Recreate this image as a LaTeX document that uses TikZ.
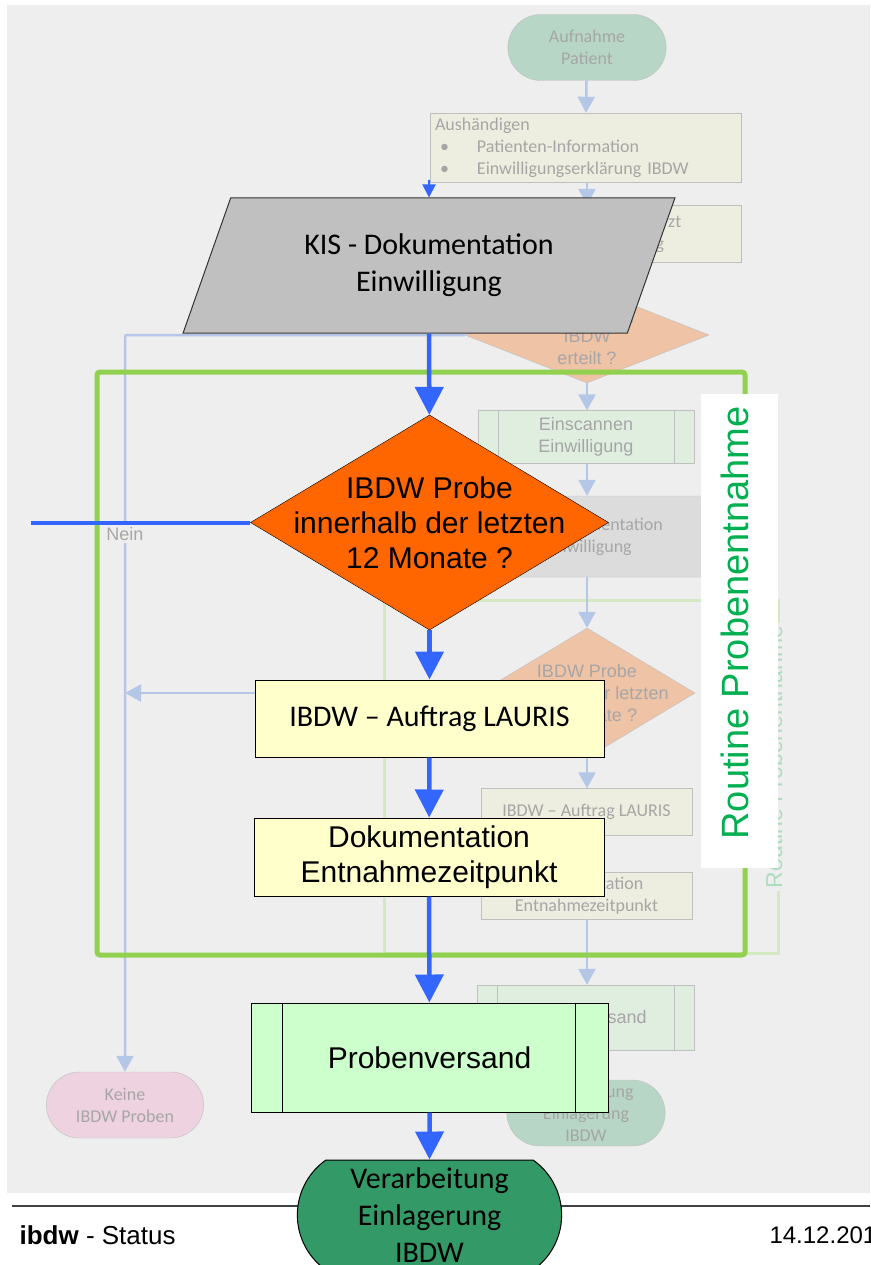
\documentclass[tikz,border=0pt]{standalone}
\usepackage{fontspec}
\setmainfont{Liberation Sans}
\newfontfamily\carlito{Carlito}
\usetikzlibrary{shapes.geometric, shapes.misc, arrows.meta, positioning}

\definecolor{bggray}{HTML}{EEEEEE}
\definecolor{fadetext}{HTML}{A6A6A6}
\definecolor{fadeline}{HTML}{BFBFBF}
\definecolor{fadeblue}{HTML}{B4C7E7}
\definecolor{fadebeige}{HTML}{EDEDE0}
\definecolor{fadegreen}{HTML}{DFEEDF}
\definecolor{fadestad}{HTML}{B7D6C6}
\definecolor{fadepink}{HTML}{EED2E0}
\definecolor{fadeorange}{HTML}{EFC3A6}
\definecolor{fadekis}{HTML}{DCDCDC}
\definecolor{fadeframe}{HTML}{D5E8C4}
\definecolor{fadelabel}{HTML}{ABDDBE}
\definecolor{mainblue}{HTML}{3366FF}
\definecolor{routinegreen}{HTML}{92D050}
\definecolor{labelgreen}{HTML}{00B050}
\definecolor{kisgray}{HTML}{C0C0C0}
\definecolor{decorange}{HTML}{FF6600}
\definecolor{boxyellow}{HTML}{FFFFCC}
\definecolor{boxgreen}{HTML}{CCFFCC}
\definecolor{endgreen}{HTML}{339966}

\newcommand{\bigsans}{\fontsize{30}{35}\selectfont}
\newcommand{\bigcal}{\carlito\fontsize{30}{37}\selectfont}
\newcommand{\smallsans}{\fontsize{18}{22}\selectfont}
\newcommand{\smallcal}{\carlito\fontsize{18}{22}\selectfont}

% faded background chart
\tikzstyle{fadebox} = [rectangle, draw=fadeline, fill=fadebeige, text=fadetext, align=center, font=\smallcal]
\tikzstyle{fadeproc} = [rectangle, draw=fadeline, fill=fadegreen, text=fadetext, align=center, font=\smallsans]
\tikzstyle{fadeterm} = [rounded rectangle, draw=fadeline, fill=fadestad, text=fadetext, align=center, font=\smallcal, minimum width=165pt, minimum height=66pt]
\tikzstyle{fadedec} = [diamond, draw=fadeline, fill=fadeorange, inner sep=0pt]
\tikzstyle{fadearrow} = [line width=2.5pt, draw=fadeblue, -{Triangle[length=16pt,width=17pt]}]
% main chart
\tikzstyle{mainbox} = [rectangle, draw=black, line width=1pt, fill=boxyellow, align=center]
\tikzstyle{parallel} = [trapezium, trapezium left angle=64.6, trapezium right angle=115.4, trapezium stretches=true, inner sep=0pt]
\tikzstyle{mainarrow} = [line width=4.5pt, draw=mainblue, -{Triangle[length=28pt,width=28pt]}]

\begin{document}
\begin{tikzpicture}[x=1pt,y=-1pt]
        \useasboundingbox (0,0) rectangle (870,1265);
        \clip (0,0) rectangle (870,1265);
        \fill[white] (0,0) rectangle (870,1265);
        \fill[bggray] (7,5) rectangle (870,1193);

        % Faded chart
        \node (aufn) [fadeterm] at (587,47.5) {Aufnahme\\Patient};
        \node (aush) [fadebox, text width=301pt, inner xsep=5pt, minimum height=69pt, align=left] at (585.5,147.5)
            {Aushändigen\\\hspace*{5pt}\makebox[37pt][l]{\textbullet}Patienten-Information\\\hspace*{5pt}\makebox[37pt][l]{\textbullet}Einwilligungserklärung IBDW};
        \node (aufkl) [fadebox, minimum width=311pt, minimum height=57pt] at (585.5,233.5) {Aufklärung durch den Arzt\\Erteilung Einwilligung};
        \node (einw) [fadedec, minimum width=244pt, minimum height=96pt] at (587,335) {};
        \node [text=fadetext, align=center, font=\smallsans] at (587,336) {Einwilligung\\IBDW\\erteilt ?};
        \node (scan) [fadeproc, minimum width=216pt, minimum height=53pt] at (586,437) {Einscannen\\Einwilligung};
        \draw[fadeline] ([xshift=20pt]scan.north west) -- ([xshift=20pt]scan.south west);
        \draw[fadeline] ([xshift=-20pt]scan.north east) -- ([xshift=-20pt]scan.south east);
        \node (kisf) [parallel, draw=fadeline, fill=fadekis, text=fadetext, align=center, font=\smallcal, minimum width=296pt, minimum height=81pt] at (588,536.5) {KIS - Dokumentation\\Einwilligung};
        \draw[fadeframe, line width=3pt] (384,600) rectangle (778,953);
        \node (fadert) [rotate=90, fill=bggray, text=fadelabel, font=\fontsize{23}{26}\selectfont, inner sep=3pt] at (774,757) {Routine Probenentnahme};
        \node (ibdwf) [fadedec, minimum width=216pt, minimum height=130pt] at (587,693) {};
        \node [text=fadetext, align=center, font=\smallsans, inner sep=0pt] at (587,693) {IBDW Probe\\innerhalb der letzten\\12 Monate ?};
        \node (laurisf) [fadebox, minimum width=211pt, minimum height=47pt] at (586.5,812) {IBDW – Auftrag LAURIS};
        \node (dokf) [fadebox, minimum width=211pt, minimum height=47pt] at (586.5,895.5) {Dokumentation\\Entnahmezeitpunkt};
        \node (pvf) [fadeproc, minimum width=217pt, minimum height=65pt] at (585.5,1017.5) {Probenversand};
        \draw[fadeline] ([xshift=20pt]pvf.north west) -- ([xshift=20pt]pvf.south west);
        \draw[fadeline] ([xshift=-20pt]pvf.north east) -- ([xshift=-20pt]pvf.south east);
        \node (verf) [fadeterm] at (586,1113) {Verarbeitung\\Einlagerung\\IBDW};
        \node (keine) [fadeterm, fill=fadepink, minimum width=164pt] at (125,1105) {Keine\\IBDW Proben};

        \draw[fadearrow] (aufn) -- (aush);
        \draw[fadearrow] (aush.south -| aufn) -- (aufkl.north -| aufn);
        \draw[fadearrow] (aufkl.south -| aufn) -- (einw);
        \draw[fadearrow] (einw) -- (scan.north -| einw);
        \draw[fadearrow] (scan.south -| einw) -- (kisf.north -| einw);
        \draw[fadearrow] (kisf.south -| einw) -- (ibdwf);
        \draw[fadearrow] (ibdwf) -- (laurisf.north -| ibdwf);
        \draw[fadearrow] (laurisf.south -| ibdwf) -- (dokf.north -| ibdwf);
        \draw[fadearrow] (dokf.south -| ibdwf) -- (pvf.north -| ibdwf);
        \draw[fadearrow] (pvf.south -| ibdwf) -- (verf.north -| ibdwf);
        \draw[fadearrow, rounded corners=2pt] (einw.west) -| (keine.north);
        \draw[fadearrow] (ibdwf.west) -- (ibdwf.west -| keine.north);
        \node (nein) [fill=bggray, text=fadetext, font=\smallsans, inner sep=2pt] at (125,534) {Nein};

        % Footer
        \draw[black!75, line width=1.5pt] (12,1206) -- (870,1206);
        \node (status) [anchor=west, font=\fontsize{26}{28}\selectfont] at (16,1235) {\textbf{ibdw} - Status};
        \node (datum) [anchor=west, font=\fontsize{24}{28}\selectfont] at (766,1235) {14.12.201};

        % Routine frame
        \draw[routinegreen, line width=5pt, rounded corners=3pt] (97,372) rectangle (745,955);
        \node (routine) [rotate=90, fill=white, minimum width=474pt, minimum height=77pt] at (739.5,631) {};
        \node (routinetext) [rotate=90, text=labelgreen, font=\fontsize{38}{40}\selectfont, inner sep=0pt] at (735,623) {Routine Probenentnahme};

        % Main chart
        \coordinate (kisin) at (429,180);
        \coordinate (neinend) at (31,522.5);
        \node (kis) [parallel, draw=black!80, line width=1pt, fill=kisgray, align=center, font=\bigcal, minimum width=494pt, minimum height=135pt] at (429,265.5) {KIS - Dokumentation\\Einwilligung};
        \node (dec) [diamond, draw=black, fill=decorange, minimum width=358pt, minimum height=215pt, inner sep=0pt] at (429.5,522.5) {};
        \node (dectext) [align=center, font=\bigsans, inner sep=0pt] at (429.5,523) {IBDW Probe\\innerhalb der letzten\\12 Monate ?};
        \node (lauris) [mainbox, minimum width=349pt, minimum height=77pt, font=\bigcal] at (429.5,718.5) {IBDW – Auftrag LAURIS};
        \node (dok) [mainbox, minimum width=350pt, minimum height=78pt, font=\bigsans] at (429,857) {Dokumentation\\Entnahmezeitpunkt};
        \node (pv) [mainbox, fill=boxgreen, minimum width=357pt, minimum height=109pt, font=\bigsans] at (429.5,1057.5) {Probenversand};
        \draw[black, line width=1pt] ([xshift=32pt]pv.north west) -- ([xshift=32pt]pv.south west);
        \draw[black, line width=1pt] ([xshift=-33pt]pv.north east) -- ([xshift=-33pt]pv.south east);
        \node (ver) [rounded rectangle, rounded rectangle arc length=110, draw=black, line width=1pt, fill=endgreen, align=center, font=\bigcal, minimum width=271pt, minimum height=110pt] at (429.5,1215) {Verarbeitung\\Einlagerung\\IBDW};

        % Arrows
        \draw[draw=mainblue, line width=2pt, -{Triangle[length=13pt,width=13pt]}] (kisin) -- (kis.north);
        \draw[mainarrow] (kis) -- (dec);
        \draw[mainarrow] (dec) -- (lauris);
        \draw[mainarrow] (lauris) -- (dok);
        \draw[mainarrow] (dok) -- (pv);
        \draw[mainarrow] (pv) -- (ver);
        \draw[mainblue, line width=4pt] (dec.west) -- (neinend);
    \end{tikzpicture}
\end{document}
